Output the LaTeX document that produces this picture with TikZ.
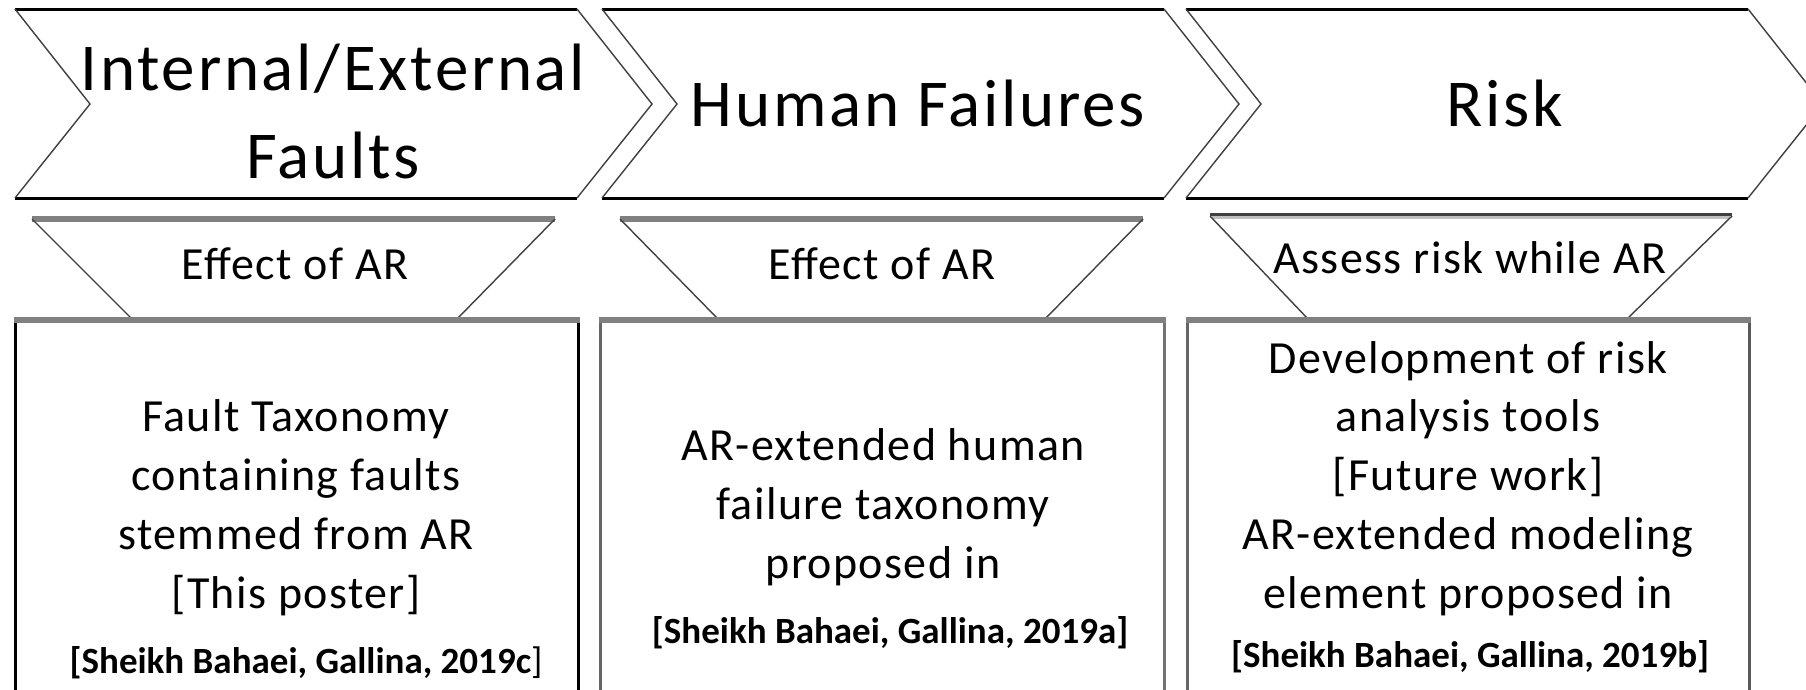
\documentclass[tikz,border=0pt]{standalone}
\usepackage{fontspec}
\setmainfont{Carlito}
\newfontfamily\headfont{Carlito}[LetterSpace=4]
\newfontfamily\bodyfont{Carlito}[LetterSpace=3]
\tikzset{
  edgeline/.style={line width=3pt, draw=black},
  slant/.style={line width=1.4pt, draw=black!75},
  bar/.style={line width=6pt, draw=black!50},
  side/.style={line width=3pt},
  head/.style={font=\headfont\fontsize{67}{88}\selectfont, align=center, anchor=base, inner sep=0pt},
  lab/.style={font=\bodyfont\fontsize{46}{58.7}\selectfont, align=center, anchor=base, inner sep=0pt},
  citelab/.style={font=\fontsize{37}{44}\selectfont, anchor=base, inner sep=0pt},
}
\begin{document}
\begin{tikzpicture}[x=1pt,y=-1pt]
\useasboundingbox (0,0) rectangle (1806,689);
\fill[white] (0,0) rectangle (1806,689);
\clip (0,0) rectangle (1806,689);
% chevrons
\foreach \x in {15,602,1186}{
  \draw[edgeline] (\x,9) -- ({\x+562},9);
  \draw[edgeline] (\x,198) -- ({\x+562},198);
  \draw[slant] ({\x+562},9) -- ({\x+637},104) -- ({\x+562},198);
  \draw[slant] (\x,9) -- ({\x+75},104) -- (\x,198);
}
% trapezoids
\draw[bar] (32,219) -- (555,219);
\draw[slant] (32,219) -- (132,319);
\draw[slant] (555,219) -- (457,319);
\draw[bar] (620,219) -- (1143,219);
\draw[slant] (620,219) -- (718,319);
\draw[slant] (1143,219) -- (1045,319);
\draw[line width=3pt, draw=black!75] (1210,214.5) -- (1732,214.5);
\draw[line width=3pt, draw=black!25] (1212,217.5) -- (1730,217.5);
\draw[slant] (1210,216) -- (1308,319);
\draw[slant] (1732,216) -- (1627,319);
% boxes
\draw[side, draw=black] (15,319) -- (15,700);
\draw[side, draw=black] (578.5,319) -- (578.5,700);
\draw[side, draw=black!60] (600,319) -- (600,700);
\draw[side, draw=black!55] (1164,319) -- (1164,700);
\draw[side, draw=black!60] (1187,319) -- (1187,700);
\draw[side, draw=black!65] (1749,319) -- (1749,700);
\draw[bar] (13.5,319.5) -- (580,319.5);
\draw[bar] (598.5,319.5) -- (1165.5,319.5);
\draw[bar] (1185.5,319.5) -- (1750.5,319.5);
% headings
\node[head] (h1) at (333,178) {Internal/External\\Faults};
\node[head] (h2) at (918,126) {Human Failures};
\node[head] (h3) at (1505,126) {Risk};
% trapezoid labels
\node[lab] (t1) at (295,279) {Effect of AR};
\node[lab] (t2) at (882,279) {Effect of AR};
\node[lab] (t3) at (1470,273) {Assess risk while AR};
% box texts
\node[lab] (b1) at (296,608) {Fault Taxonomy\\containing faults\\stemmed from AR\\{[}This poster{]}};
\node[citelab] (c1) at (306,673) {\bfseries [Sheikh Bahaei, Gallina, 2019c\mdseries ]};
\node[lab] (b2) at (883,578) {AR-extended human\\failure taxonomy\\proposed in};
\node[citelab] (c2) at (890,643) {\bfseries [Sheikh Bahaei, Gallina, 2019a]};
\node[lab] (b3) at (1468,608) {Development of risk\\analysis tools\\{[}Future work{]}\\AR-extended modeling\\element proposed in};
\node[citelab] (c3) at (1470,667) {\bfseries [Sheikh Bahaei, Gallina, 2019b]};
\end{tikzpicture}
\end{document}
